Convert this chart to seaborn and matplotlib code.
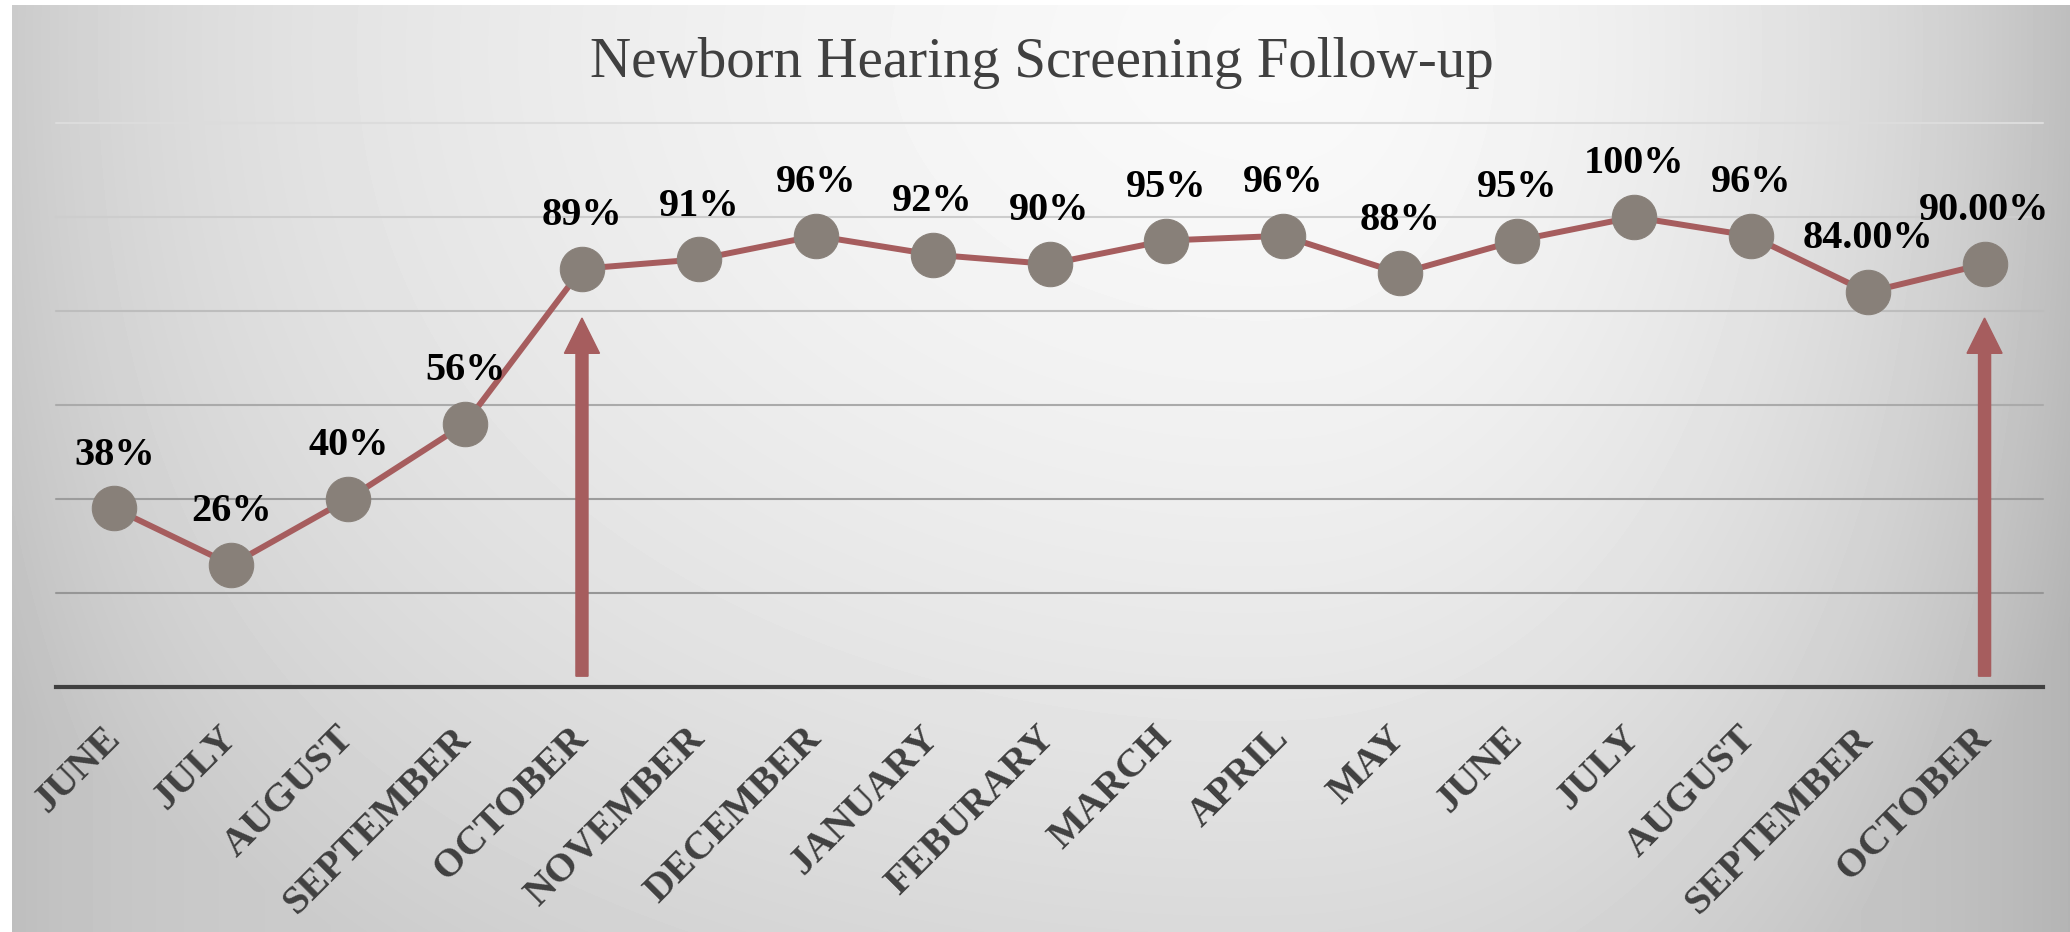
import seaborn as sns
import matplotlib.pyplot as plt
import numpy as np
import pandas as pd

months = ['JUNE', 'JULY', 'AUGUST', 'SEPTEMBER', 'OCTOBER', 'NOVEMBER', 'DECEMBER',
          'JANUARY', 'FEBURARY', 'MARCH', 'APRIL', 'MAY', 'JUNE', 'JULY', 'AUGUST',
          'SEPTEMBER', 'OCTOBER']
follow_up = [0.38, 0.26, 0.40, 0.56, 0.89, 0.91, 0.96, 0.92, 0.90, 0.95, 0.96,
             0.88, 0.95, 1.00, 0.96, 0.84, 0.90]
point_labels = ['38%', '26%', '40%', '56%', '89%', '91%', '96%', '92%', '90%', '95%',
                '96%', '88%', '95%', '100%', '96%', '84.00%', '90.00%']
arrow_at = [4, 16]
arrow_from = 0.023
arrow_to = 0.785

line_col = '#a65d5e'
dot_col = '#888079'
text_col = '#404040'

sns.set_style('white')
plt.rcParams['font.family'] = ['Liberation Serif', 'DejaVu Serif']

fig = plt.figure(figsize=(20.7, 9.32), dpi=100)
fig.patch.set_facecolor('white')

# background: soft light spot near the title, darker towards the edges
W, H = 2070, 932
yy, xx = np.mgrid[0:H, 0:W].astype(float)
cx, cy = 1300.0, 50.0
rx = np.where(xx < cx, 1600.0, 900.0)
d = np.sqrt(((xx - cx) / rx) ** 2 + ((yy - cy) / 1100.0) ** 2)
shade = 250 - 45 * np.clip(d, 0, 1.0) ** 1.5
shade -= 15 * np.exp(-(xx - 12) / 150.0) + 25 * np.exp(-(W - xx) / 200.0)
bg = fig.add_axes([12 / W, 0, 1 - 12 / W, 1 - 5 / H], zorder=-5)
bg.imshow(shade[5:, 12:], cmap='gray', vmin=0, vmax=255, aspect='auto')
bg.axis('off')

ax = fig.add_axes([56 / W, 245 / H, 1987 / W, 564 / H])
ax.set_facecolor('none')

df = pd.DataFrame({'pos': range(len(months)), 'rate': follow_up})
sns.lineplot(data=df, x='pos', y='rate', ax=ax, color=line_col, linewidth=4.3,
             marker='o', markersize=32, markerfacecolor=dot_col,
             markeredgecolor=dot_col, zorder=3)

for i, (v, lbl) in enumerate(zip(follow_up, point_labels)):
    ax.annotate(lbl, (i, v), xytext=(0, 31.5), textcoords='offset points',
                ha='center', va='baseline', fontsize=29, fontweight='bold',
                color='black', zorder=4)

for i in arrow_at:
    ax.arrow(i, arrow_from, 0, arrow_to - arrow_from, width=0.103,
             head_width=0.30, head_length=0.075, length_includes_head=True,
             color=line_col, zorder=2)

ax.set_xlim(-0.5, len(months) - 0.5)
ax.set_ylim(0, 1.2)
ax.set_yticks([0.2, 0.4, 0.6, 0.8, 1.0, 1.2])
ax.set_yticklabels([])
ax.grid(axis='y', lw=1.5)
ax.grid(axis='x', visible=False)
grid_cols = ['#969696', '#9c9c9c', '#aaaaaa', '#bdbdbd', '#cdcdcd', '#dcdcdc']
for gl, c in zip(ax.get_ygridlines(), grid_cols):
    gl.set_color(c)
    gl.set_clip_on(False)

ax.set_xticks(range(len(months)))
ax.set_xticklabels(months, rotation=45, ha='right', va='center',
                   rotation_mode='anchor', fontsize=29, fontweight='bold',
                   color=text_col)
ax.tick_params(axis='x', length=0, pad=33)
ax.tick_params(axis='y', length=0)
ax.set_xlabel('')
ax.set_ylabel('')

for s in ['top', 'left', 'right']:
    ax.spines[s].set_visible(False)
ax.spines['bottom'].set_color(text_col)
ax.spines['bottom'].set_linewidth(3)

fig.text(1042 / W, 1 - 77 / H, 'Newborn Hearing Screening Follow-up',
         ha='center', va='baseline', fontsize=41, color=text_col)

fig.savefig('out.png', dpi=100)
